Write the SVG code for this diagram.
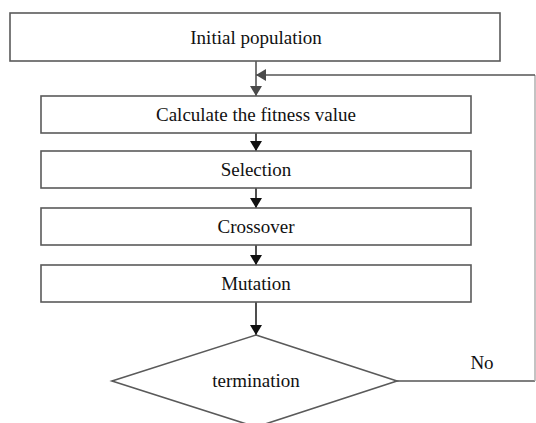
<svg xmlns="http://www.w3.org/2000/svg" width="536" height="423" viewBox="0 0 536 423">
<style>
.box{fill:#fff;stroke:#5a5a5a;stroke-width:1.6}
.lbl{font-family:"Liberation Serif","Times New Roman",serif;font-size:19px;fill:#111;text-anchor:middle}
.ln{fill:none;stroke:#222;stroke-width:1.6}
.lg{fill:none;stroke:#555;stroke-width:1.6}
</style>
<defs>
<marker id="ah" viewBox="0 0 10 12" refX="10" refY="6" markerWidth="10" markerHeight="12" markerUnits="userSpaceOnUse" orient="auto">
<path d="M0,0 L10,6 L0,12 Z" fill="#111"/>
</marker>
<marker id="ahg" viewBox="0 0 10 12" refX="10" refY="6" markerWidth="10" markerHeight="12" markerUnits="userSpaceOnUse" orient="auto">
<path d="M0,0 L10,6 L0,12 Z" fill="#4a4a4a"/>
</marker>
</defs>
<rect width="536" height="423" fill="#fff"/>
<g id="connectors">
<line class="lg" x1="256" y1="61" x2="256" y2="96" marker-end="url(#ahg)"/>
<polyline class="lg" points="397,381 535,381"/>
<line x1="535" y1="381" x2="535" y2="75" stroke="#aaa" stroke-width="1.4"/>
<line class="lg" x1="535" y1="75" x2="256" y2="75" marker-end="url(#ahg)"/>
<line class="ln" x1="256" y1="133" x2="256" y2="151" marker-end="url(#ah)"/>
<line class="ln" x1="256" y1="188" x2="256" y2="208" marker-end="url(#ah)"/>
<line class="ln" x1="256" y1="245" x2="256" y2="265" marker-end="url(#ah)"/>
<line class="ln" x1="256" y1="302" x2="256" y2="335" marker-end="url(#ah)"/>
<text class="lbl" x="482" y="369">No</text>
</g>
<g id="initial">
<rect class="box" x="10" y="13" width="490" height="48"/>
<text class="lbl" x="256" y="44">Initial population</text>
</g>
<g id="fitness">
<rect class="box" x="41" y="96" width="430" height="37"/>
<text class="lbl" x="256" y="121">Calculate the fitness value</text>
</g>
<g id="selection">
<rect class="box" x="41" y="151" width="430" height="37"/>
<text class="lbl" x="256" y="176">Selection</text>
</g>
<g id="crossover">
<rect class="box" x="41" y="208" width="430" height="37"/>
<text class="lbl" x="256" y="233">Crossover</text>
</g>
<g id="mutation">
<rect class="box" x="41" y="265" width="430" height="37"/>
<text class="lbl" x="256" y="290">Mutation</text>
</g>
<g id="termination">
<polygon class="box" points="256,335 397,381 256,427 112,381"/>
<text class="lbl" x="256" y="387">termination</text>
</g>
</svg>
